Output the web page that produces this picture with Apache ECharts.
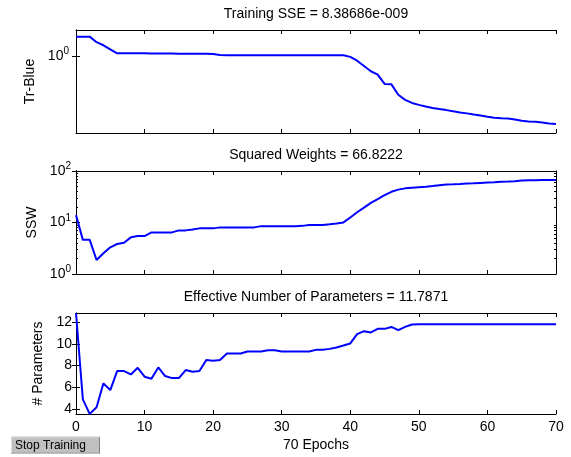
<!DOCTYPE html>
<html>
<head>
<meta charset="utf-8">
<script src="https://cdn.jsdelivr.net/npm/echarts@6/dist/echarts.min.js"></script>
<style>
html,body{margin:0;padding:0;background:#fff;}
#c{width:571px;height:457px;}
</style>
</head>
<body>
<div id="c"></div>
<script>
var epochs = [0,1,2,3,4,5,6,7,8,9,10,11,12,13,14,15,16,17,18,19,20,21,22,23,24,25,26,27,28,29,30,31,32,33,34,35,36,37,38,39,40,41,42,43,44,45,46,47,48,49,50,51,52,53,54,55,56,57,58,59,60,61,62,63,64,65,66,67,68,69,70];
var trBlue = [1.54,1.54,1.54,1.36,1.27,1.16,1.06,1.06,1.06,1.06,1.06,1.055,1.055,1.055,1.055,1.05,1.05,1.05,1.05,1.048,1.045,1.02,1.015,1.015,1.015,1.015,1.015,1.015,1.015,1.015,1.015,1.015,1.015,1.015,1.015,1.015,1.015,1.015,1.015,1.015,0.98,0.90,0.80,0.71,0.66,0.535,0.53,0.42,0.375,0.35,0.335,0.323,0.313,0.305,0.298,0.29,0.283,0.277,0.27,0.264,0.257,0.251,0.248,0.247,0.241,0.235,0.231,0.23,0.226,0.221,0.218];
var ssw = [13.9,4.6,4.6,1.87,2.52,3.3,3.82,4.05,5.15,5.46,5.46,6.43,6.43,6.43,6.43,7.03,7.03,7.35,7.69,7.69,7.69,8.04,8.04,8.04,8.04,8.04,8.04,8.5,8.5,8.5,8.5,8.5,8.5,8.6,8.9,8.9,8.9,9.2,9.6,10.05,12.5,15.8,19.5,24,28.5,34,39.5,43.5,46,47.5,48.5,49.2,51,53,54.6,55,55.8,57,57.6,58.6,59.6,60.5,61.6,62.5,63.5,65.5,66.1,66.3,66.5,66.7,66.82];
var params = [12.83,4.89,3.55,4.16,6.36,5.74,7.49,7.49,7.18,7.79,6.97,6.78,7.82,7.03,6.84,6.84,7.58,7.43,7.49,8.5,8.44,8.5,9.11,9.11,9.11,9.29,9.29,9.29,9.41,9.41,9.29,9.29,9.29,9.29,9.29,9.44,9.44,9.53,9.66,9.84,10.03,10.88,11.16,11.04,11.37,11.37,11.55,11.25,11.55,11.77,11.787,11.787,11.787,11.787,11.787,11.787,11.787,11.787,11.787,11.787,11.787,11.787,11.787,11.787,11.787,11.787,11.787,11.787,11.787,11.787,11.787];

var titles = ['Training SSE = 8.38686e-009', 'Squared Weights = 66.8222', 'Effective Number of Parameters = 11.7871'];
var yNames = ['Tr-Blue', 'SSW', '# Parameters'];
var xTicks = [0,10,20,30,40,50,60,70];
var trTicks = [1];
var sswTicks = [1,10,100];
var sswMinor = [2,3,4,5,6,7,8,9,20,30,40,50,60,70,80,90];
var parTicks = [4,6,8,10,12];
var xLabel = '70 Epochs';
var buttonLabel = 'Stop Training';

var FONT = 'Liberation Sans, Arial, sans-serif';
var FS = 14;
function pairs(vals){ return epochs.map(function(e,i){ return [e, vals[i]]; }); }
function supFmt(v){ return '10{s|' + Math.round(Math.log(v)/Math.LN10) + '}'; }

var grids = [
  {left:76, top:30, width:480, height:103},
  {left:76, top:171, width:480, height:103},
  {left:76, top:313, width:480, height:101}
];
grids.forEach(function(g){ g.containLabel=false; g.outerBoundsMode='none'; });

var axLine = {show:true, lineStyle:{color:'#000', width:1}};
var xAxes = [];
for (var i=0;i<3;i++){
  ['bottom','top'].forEach(function(pos){
    xAxes.push({
      type:'value', gridIndex:i, position:pos, min:0, max:70, interval:10,
      axisLine:axLine,
      axisTick:{show:true, inside:true, length:4, lineStyle:{color:'#000'}},
      axisLabel:{show:(i===2 && pos==='bottom'), color:'#000', fontSize:FS, fontFamily:FONT, margin:6},
      splitLine:{show:false},
      name:(i===2 && pos==='bottom') ? xLabel : '',
      nameLocation:'middle', nameGap:24,
      nameTextStyle:{color:'#000', fontSize:FS, fontFamily:FONT}
    });
  });
}

var yAxes = [];
var richSup = {s:{fontSize:10, fontFamily:FONT, color:'#000', padding:[0,0,9,0]}};
function yAx(i, pos, opts){
  var a = {
    gridIndex:i, position:pos, axisLine:axLine,
    axisTick:{show:true, inside:true, length:4, lineStyle:{color:'#000'}},
    axisLabel:{show:false, color:'#000', fontSize:FS, fontFamily:FONT, margin:4},
    splitLine:{show:false}, minorTick:{show:false}
  };
  for (var k in opts){
    if (typeof opts[k]==='object' && !Array.isArray(opts[k]) && a[k]){ for (var kk in opts[k]) a[k][kk]=opts[k][kk]; }
    else a[k]=opts[k];
  }
  return a;
}
var nameStyle = {color:'#000', fontSize:FS, fontFamily:FONT};
// panel 1
var trMin = Math.pow(10,-0.748), trMax = Math.pow(10,0.252);
yAxes.push(yAx(0,'left',{type:'log', logBase:10, min:trMin, max:trMax,
  axisTick:{customValues:trTicks},
  axisLabel:{show:true, customValues:trTicks, formatter:supFmt, rich:richSup, margin:7},
  name:yNames[0], nameLocation:'middle', nameRotate:90, nameGap:38,
  nameTextStyle:nameStyle}));
yAxes.push(yAx(0,'right',{type:'log', logBase:10, min:trMin, max:trMax, axisTick:{customValues:trTicks}}));
// panel 2
yAxes.push(yAx(1,'left',{type:'log', logBase:10, min:1, max:100,
  axisTick:{customValues:sswTicks},
  axisLabel:{show:true, customValues:sswTicks, formatter:supFmt, rich:richSup, margin:5},
  name:yNames[1], nameLocation:'middle', nameRotate:90, nameGap:35,
  nameTextStyle:nameStyle}));
yAxes.push(yAx(1,'right',{type:'log', logBase:10, min:1, max:100, axisTick:{customValues:sswTicks}}));
yAxes.push(yAx(1,'left',{type:'log', logBase:10, min:1, max:100, axisTick:{customValues:sswMinor, length:2}}));
yAxes.push(yAx(1,'right',{type:'log', logBase:10, min:1, max:100, axisTick:{customValues:sswMinor, length:2}}));
// panel 3
yAxes.push(yAx(2,'left',{type:'value', min:3.54, max:12.83,
  axisTick:{customValues:parTicks},
  axisLabel:{show:true, customValues:parTicks},
  name:yNames[2], nameLocation:'middle', nameRotate:90, nameGap:26,
  nameTextStyle:nameStyle}));
yAxes.push(yAx(2,'right',{type:'value', min:3.54, max:12.83, axisTick:{customValues:parTicks}}));

var lineStyle = {color:'#0000ff', width:2};
var series = [
  {type:'line', xAxisIndex:0, yAxisIndex:0, data:pairs(trBlue), showSymbol:false, lineStyle:lineStyle, itemStyle:{color:'#0000ff'}, animation:false},
  {type:'line', xAxisIndex:2, yAxisIndex:2, data:pairs(ssw), showSymbol:false, lineStyle:lineStyle, itemStyle:{color:'#0000ff'}, animation:false},
  {type:'line', xAxisIndex:4, yAxisIndex:6, data:pairs(params), showSymbol:false, lineStyle:lineStyle, itemStyle:{color:'#0000ff'}, animation:false}
];

var titleY = [14, 155, 297];
var graphic = titles.map(function(t,i){
  return {type:'text', x:316, y:titleY[i], style:{text:t, fill:'#000', font:FS+'px '+FONT, textAlign:'center', textVerticalAlign:'middle'}};
});
graphic.push({type:'group', children:[
  {type:'rect', shape:{x:11, y:436.5, width:89, height:17}, style:{fill:'#c0c0c0'}},
  {type:'line', shape:{x1:11, y1:437, x2:100, y2:437}, style:{stroke:'#e0e0e0', lineWidth:1}},
  {type:'line', shape:{x1:11.5, y1:437, x2:11.5, y2:453}, style:{stroke:'#e0e0e0', lineWidth:1}},
  {type:'line', shape:{x1:99.5, y1:437, x2:99.5, y2:453.5}, style:{stroke:'#808080', lineWidth:1}},
  {type:'line', shape:{x1:11, y1:453, x2:100, y2:453}, style:{stroke:'#a0a0a0', lineWidth:1}},
  {type:'text', x:15, y:445.5, style:{text:buttonLabel, fill:'#000', font:'12px '+FONT, textAlign:'left', textVerticalAlign:'middle'}}
]});

var chart = echarts.init(document.getElementById('c'), null, {renderer:'canvas'});
chart.setOption({
  animation:false,
  backgroundColor:'#fff',
  grid:grids, xAxis:xAxes, yAxis:yAxes, series:series, graphic:graphic
});
</script>
</body>
</html>
